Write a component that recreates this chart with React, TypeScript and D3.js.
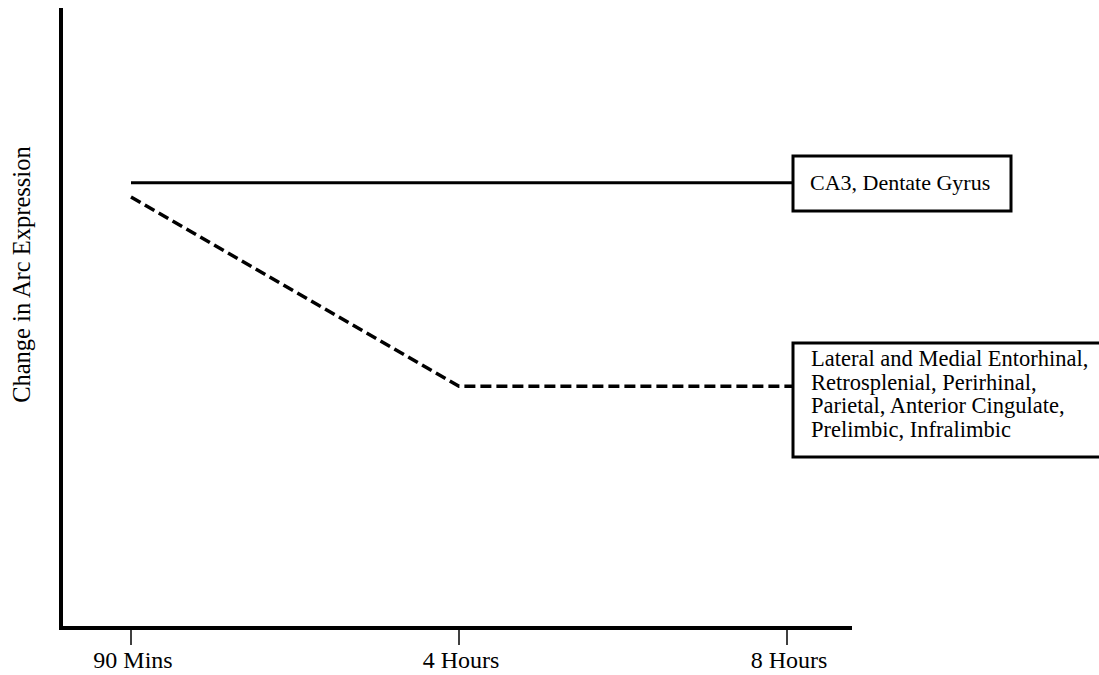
import React from "react";
import * as d3 from "d3";

const categories = ["90 Mins", "4 Hours", "8 Hours"];
const hippocampalValues = [71.8, 71.8, 71.8];
const corticalValues = [69.5, 39, 39];
const hippocampalLabel = ["CA3, Dentate Gyrus"];
const corticalLabel = [
  "Lateral and Medial Entorhinal,",
  "Retrosplenial, Perirhinal,",
  "Parietal, Anterior Cingulate,",
  "Prelimbic, Infralimbic",
];
const yAxisTitle = "Change in Arc Expression";

export default function App() {
  const W = 1099;
  const H = 675;
  const x = d3.scalePoint<string>().domain(categories).range([131, 787]);
  const y = d3.scaleLinear().domain([0, 100]).range([628, 8]);
  const boxLeft = 793;

  const line = d3
    .line<[number, number]>()
    .x((d) => d[0])
    .y((d) => d[1]);

  const solidPts: [number, number][] = categories.map((c, i) => [x(c)!, y(hippocampalValues[i])]);
  solidPts.push([boxLeft, y(hippocampalValues[hippocampalValues.length - 1])]);
  const dashPts: [number, number][] = categories.map((c, i) => [x(c)!, y(corticalValues[i])]);
  dashPts.push([boxLeft, y(corticalValues[corticalValues.length - 1])]);

  const font = "'Liberation Serif', 'Times New Roman', serif";

  return (
    <svg
      width={W}
      height={H}
      style={{ position: "absolute", left: 0, top: 0, background: "#fff", fontFamily: font }}
    >
      <rect width={W} height={H} fill="#fff" />
      <line x1={61} y1={y(100)} x2={61} y2={630} stroke="#000" strokeWidth={4} />
      <line x1={59} y1={628} x2={852} y2={628} stroke="#000" strokeWidth={4} />
      {categories.map((c) => (
        <g key={c}>
          <line x1={x(c)} x2={x(c)} y1={630} y2={645} stroke="#000" strokeWidth={1.5} />
          <text x={x(c) + 2} y={668} textAnchor="middle" fontSize={24} style={{ fontFamily: font }}>
            {c}
          </text>
        </g>
      ))}
      <text
        transform={`translate(30, ${y(57)}) rotate(-90)`}
        textAnchor="middle"
        fontSize={24.5}
        style={{ fontFamily: font }}
      >
        {yAxisTitle}
      </text>

      <path d={line(solidPts)!} fill="none" stroke="#000" strokeWidth={3} />
      <path
        d={line(dashPts)!}
        fill="none"
        stroke="#000"
        strokeWidth={3.5}
        strokeDasharray="11 5"
      />

      <rect x={boxLeft} y={156} width={218} height={55} fill="#fff" stroke="#000" strokeWidth={3} />
      {hippocampalLabel.map((t, i) => (
        <text key={t} x={810} y={190 + i * 24} fontSize={22} style={{ fontFamily: font }}>
          {t}
        </text>
      ))}
      <rect x={boxLeft} y={343} width={320} height={114} fill="#fff" stroke="#000" strokeWidth={3} />
      {corticalLabel.map((t, i) => (
        <text key={t} x={811} y={366 + i * 23.5} fontSize={22.5} style={{ fontFamily: font }}>
          {t}
        </text>
      ))}
    </svg>
  );
}
